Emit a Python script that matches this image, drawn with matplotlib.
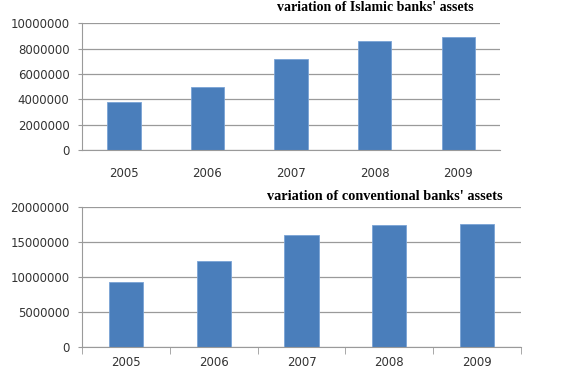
import matplotlib.pyplot as plt
import numpy as np

years = ["2005", "2006", "2007", "2008", "2009"]
islamic_assets = [3820000, 4950000, 7170000, 8590000, 8960000]
conventional_assets = [9330000, 12200000, 15950000, 17400000, 17500000]
islamic_ticks = [0, 2000000, 4000000, 6000000, 8000000, 10000000]
conventional_ticks = [0, 5000000, 10000000, 15000000, 20000000]

bar_color = "#4a7ebb"
grid_color = "#9a9a9a"
label_color = "#333333"

fig = plt.figure(figsize=(5.62, 3.71), dpi=100)
fig.patch.set_facecolor("white")


def style_axes(ax, ticks, x_ticks_out):
    ax.set_ylim(ticks[0], ticks[-1])
    ax.set_yticks(ticks)
    ax.set_yticklabels([str(t) for t in ticks], fontsize=8.5, color=label_color)
    ax.yaxis.grid(True, color=grid_color, linewidth=0.9)
    ax.set_axisbelow(True)
    for side in ["top", "right"]:
        ax.spines[side].set_visible(False)
    ax.spines["left"].set_color(grid_color)
    ax.spines["bottom"].set_color(grid_color)
    ax.tick_params(axis="y", length=3, color=grid_color, pad=6)
    ax.set_xlim(-0.5, len(years) - 0.5)
    ax.set_xticks(range(len(years)))
    ax.set_xticklabels(years, fontsize=8.5, color=label_color)
    ax.tick_params(axis="x", length=0, pad=12 if not x_ticks_out else 6)
    if x_ticks_out:
        ax.set_xticks(np.arange(-0.5, len(years), 1.0), minor=True)
        ax.tick_params(axis="x", which="minor", length=5, color=grid_color)


# top chart: Islamic banks
ax1 = fig.add_axes([0.146, 0.596, 0.744, 0.341])
ax1.bar(range(len(years)), islamic_assets, width=0.4, color=bar_color,
        edgecolor="#7aa3d6", linewidth=0.6)
style_axes(ax1, islamic_ticks, False)
fig.text(0.667, 0.981, "variation of Islamic banks' assets",
         ha="center", va="center", fontsize=10, fontweight="bold",
         family="Liberation Serif")

# bottom chart: conventional banks
ax2 = fig.add_axes([0.146, 0.064, 0.781, 0.379])
ax2.bar(range(len(years)), conventional_assets, width=0.39, color=bar_color,
        edgecolor="#7aa3d6", linewidth=0.6)
style_axes(ax2, conventional_ticks, True)
fig.text(0.685, 0.470, "variation of conventional banks' assets",
         ha="center", va="center", fontsize=10.3, fontweight="bold",
         family="Liberation Serif")

fig.savefig("out.png", dpi=100)
